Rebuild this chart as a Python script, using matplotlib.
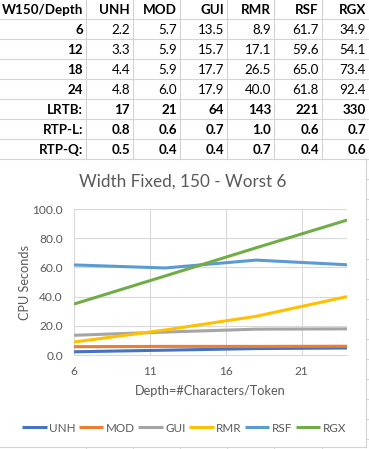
import numpy as np
import matplotlib
matplotlib.use("Agg")
import matplotlib.pyplot as plt

# table / chart data
series = ["UNH", "MOD", "GUI", "RMR", "RSF", "RGX"]
depths = [6, 12, 18, 24]
unh = [2.2, 3.3, 4.4, 4.8]
mod = [5.7, 5.9, 5.9, 6.0]
gui = [13.5, 15.7, 17.7, 17.9]
rmr = [8.9, 17.1, 26.5, 40.0]
rsf = [61.7, 59.6, 65.0, 61.8]
rgx = [34.9, 54.1, 73.4, 92.4]
lrtb = [17, 21, 64, 143, 221, 330]
rtp_l = [0.8, 0.6, 0.7, 1.0, 0.6, 0.7]
rtp_q = [0.5, 0.4, 0.4, 0.7, 0.4, 0.6]
colors = ["#4472C4", "#ED7D31", "#A5A5A5", "#FFC000", "#5B9BD5", "#70AD47"]
xticks = [6, 11, 16, 21]
yticks = [0, 20, 40, 60, 80, 100]

W, H = 369, 449
fig = plt.figure(figsize=(W / 100, H / 100), dpi=100)

# background "sheet" axes in pixel coordinates
bg = fig.add_axes([0, 0, 1, 1])
bg.set_xlim(0, W)
bg.set_ylim(H, 0)
bg.axis("off")

col_edges = [0, 86, 133, 180, 227, 274, 322, 369]
row_edges = [0, 19, 39, 59, 79, 99, 119, 139, 159]
grid_c = "#D4D4D4"
for y in row_edges[1:]:
    bg.plot([0, W], [y, y], color=grid_c, lw=0.8)
for x in col_edges[1:-1]:
    bg.plot([x, x], [0, 159], color=grid_c, lw=0.8)
    bg.plot([x, x], [447, H], color=grid_c, lw=0.8)
# chart border + sheet grid peeking out at right
bg.plot([366, 366], [159, 447], color=grid_c, lw=0.8)
bg.plot([0, 366], [447, 447], color=grid_c, lw=0.8)
for y in range(179, 449, 20):
    bg.plot([366, W], [y, y], color=grid_c, lw=0.8)

tfont = dict(family="Lato", fontsize=9.6, color="black", ha="right", va="center")
rows = [["W150/Depth"] + series]
vals = [unh, mod, gui, rmr, rsf, rgx]
for i, d in enumerate(depths):
    rows.append([str(d)] + ["%.1f" % v[i] for v in vals])
rows.append(["LRTB:"] + [str(v) for v in lrtb])
rows.append(["RTP-L:"] + ["%.1f" % v for v in rtp_l])
rows.append(["RTP-Q:"] + ["%.1f" % v for v in rtp_q])
for r, row in enumerate(rows):
    yc = (row_edges[r] + row_edges[r + 1]) / 2 + 0.5
    for c, txt in enumerate(row):
        bold = r == 0 or r >= 5 or c == 0
        bg.text(col_edges[c + 1] - 3, yc, txt, fontweight="bold" if bold else "normal", **tfont)

# chart
gray = "#595959"
bg.text(183, 182, "Width Fixed, 150 - Worst 6", family="Lato", fontsize=12.3,
        color=gray, ha="center", va="center")

ax = fig.add_axes([74 / W, 1 - 355 / H, (347 - 74) / W, (355 - 209) / H])
for s, v, c in zip(series, vals, colors):
    ax.plot(depths, v, color=c, lw=2.2, label=s, solid_capstyle="butt")
ax.set_xlim(6, 24)
ax.set_ylim(0, 100)
ax.set_xticks(xticks)
ax.set_yticks(yticks)
ax.set_yticklabels(["%.1f" % t for t in yticks])
ax.grid(True, color="#D9D9D9", lw=0.8)
ax.set_axisbelow(True)
for sp in ["top", "right", "left"]:
    ax.spines[sp].set_visible(False)
ax.spines["bottom"].set_color("#D9D9D9")
ax.tick_params(length=0, labelsize=8.6, labelcolor=gray, pad=8)
for lab in ax.get_xticklabels() + ax.get_yticklabels():
    lab.set_family("Lato")
ax.set_xlabel("Depth=#Characters/Token", family="Lato", fontsize=9.2, color=gray, labelpad=6)
ax.set_ylabel("CPU Seconds", family="Lato", fontsize=9.2, color=gray, labelpad=1)

fig.legend(loc="center", bbox_to_anchor=(184 / W, 1 - 428 / H), ncol=6, frameon=False,
           prop=dict(family="Lato", size=8.4), labelcolor=gray, handlelength=2.1,
           handletextpad=0.2, columnspacing=0.3)

fig.savefig("out.png", dpi=100)
